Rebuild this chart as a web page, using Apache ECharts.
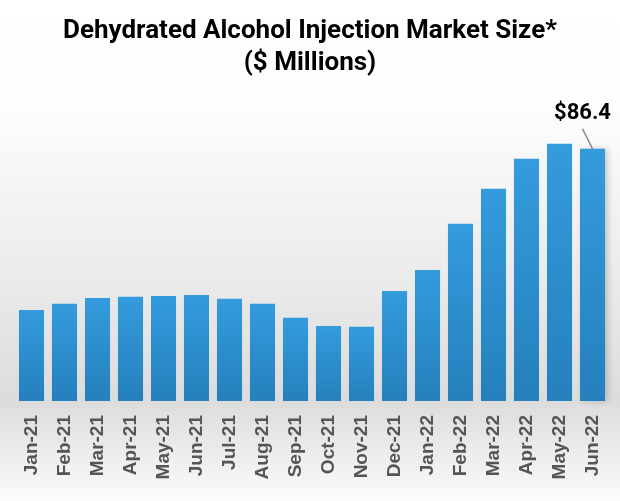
<!DOCTYPE html>
<html>
<head>
<meta charset="utf-8">
<script src="https://cdn.jsdelivr.net/npm/echarts@6/dist/echarts.min.js"></script>
<style>html,body{margin:0;padding:0;}#c{width:620px;height:501px;}</style>
</head>
<body>
<div id="c"></div>
<script>
const categories = ['Jan-21','Feb-21','Mar-21','Apr-21','May-21','Jun-21','Jul-21','Aug-21','Sep-21','Oct-21','Nov-21','Dec-21','Jan-22','Feb-22','Mar-22','Apr-22','May-22','Jun-22'];
const values = [31.2,33.3,35.3,35.7,36.0,36.3,35.0,33.3,28.5,25.7,25.4,37.7,44.9,60.7,72.7,83.0,88.1,86.4];
const labelledIndex = 17;
const titleLines = ['Dehydrated Alcohol Injection Market Size*', '($ Millions)'];

const chart = echarts.init(document.getElementById('c'), null, {renderer: 'canvas'});
chart.setOption({
  animation: false,
  backgroundColor: {
    type: 'linear', x: 0, y: 0, x2: 0, y2: 1,
    colorStops: [
      {offset: 0, color: '#ffffff'},
      {offset: 0.2, color: '#fefefe'},
      {offset: 0.55, color: '#ebebeb'},
      {offset: 0.8, color: '#dcdcdc'},
      {offset: 1, color: '#fbfbfb'}
    ]
  },
  title: {
    text: titleLines.join('\n'),
    left: 'center',
    top: 10,
    textStyle: {fontFamily: 'Roboto', fontWeight: 'bold', fontSize: 26, lineHeight: 32, color: '#000'}
  },
  grid: {left: 15, right: 11, top: 109, bottom: 100},
  xAxis: {
    type: 'category',
    data: categories,
    axisLine: {show: false},
    axisTick: {show: false},
    axisLabel: {rotate: 90, margin: 14, fontFamily: 'Liberation Sans', fontWeight: 'bold', fontSize: 19, color: '#555', interval: 0}
  },
  yAxis: {type: 'value', min: 0, max: 100, show: false, splitLine: {show: false}},
  series: [{
    type: 'bar',
    data: values.map((v, i) => i === labelledIndex ? {
      value: v,
      label: {show: true, position: 'top', formatter: '$' + v.toFixed(1), fontFamily: 'Roboto', fontWeight: 'bold', fontSize: 22, color: '#000'}
    } : v),
    barCategoryGap: '24%',
    labelLayout: function (p) { return p.dataIndex === labelledIndex ? {dx: -10, dy: -19} : {}; },
    itemStyle: {
      color: {type: 'linear', x: 0, y: 0, x2: 0, y2: 1, colorStops: [{offset: 0, color: '#349bdd'}, {offset: 1, color: '#2580bc'}]},
      shadowColor: 'rgba(0,0,0,0.18)', shadowBlur: 6, shadowOffsetX: 3, shadowOffsetY: 0
    }
  }]
});
// leader line from the labelled bar's top to just under its label
const barTop = chart.convertToPixel({gridIndex: 0}, [labelledIndex, values[labelledIndex]]);
chart.setOption({
  graphic: [{
    type: 'line', silent: true,
    shape: {x1: barTop[0], y1: barTop[1], x2: barTop[0] - 10, y2: barTop[1] - 20},
    style: {stroke: '#888', lineWidth: 1.5}
  }]
});
</script>
</body>
</html>
